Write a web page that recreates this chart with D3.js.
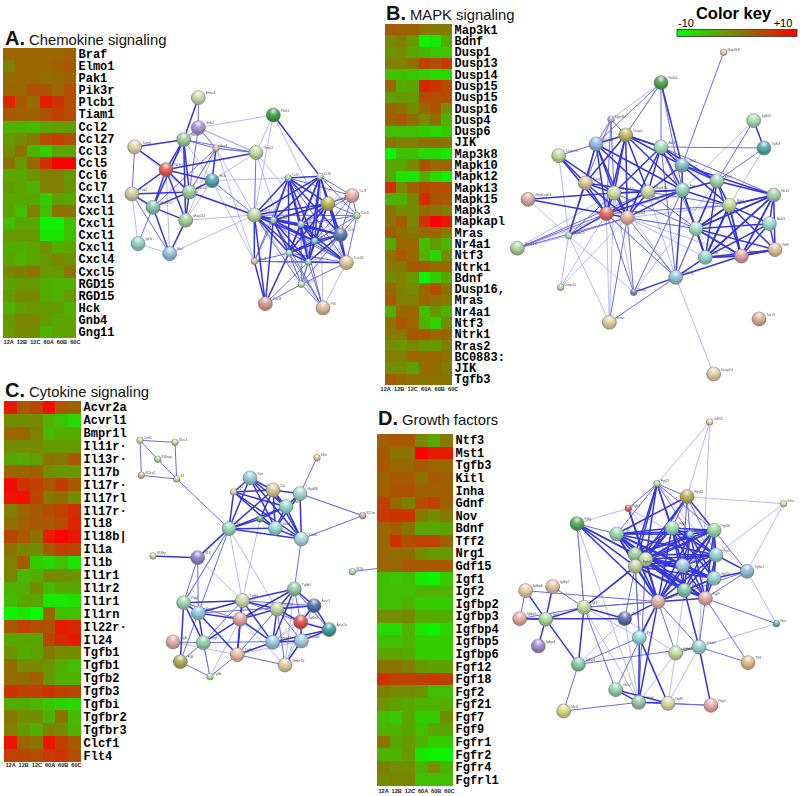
<!DOCTYPE html>
<html><head><meta charset="utf-8">
<script src="https://cdn.jsdelivr.net/npm/d3@7/dist/d3.min.js"></script>
<style>html,body{margin:0;background:#fff}svg{display:block}</style></head>
<body><div id="c"></div>
<script>
const timepoints=["12A","12B","12C","60A","60B","60C"];

const genesA=["Braf","Elmo1","Pak1","Pik3r","Plcb1","Tiam1","Ccl2","Ccl27","Ccl3","Ccl5","Ccl6","Ccl7","Cxcl1","Cxcl1","Cxcl1","Cxcl1","Cxcl1","Cxcl4","Cxcl5","RGD15","RGD15","Hck","Gnb4","Gng11"];
const valuesA=[[2,2,2,2,2,2.5],[0,2,2,2,2.5,3],[1.5,2,2,1,2,2.5],[2,2,4,3.5,2,4],[7,3,1.5,8,6,4],[3,2.5,2.5,3.5,5,4],[-4,-4,-4.5,-3,-2.5,-2.5],[-2,-1,.5,4,5,4],[-1,1,-4,-6,-3,-3],[1,-2,2,6,10,10],[-3,-3,-1.5,0,0,-2],[-2,-3,-4,0,0,-1.5],[-3,-3,-3,-6,-2.5,-3],[-3,-5,0,-5,1,1],[-5,-3,-3,-9,-9,-5],[-2,-2,-2,-8,-8,-5],[-3.5,-3.5,-3,-1,-3.5,-3],[-3,-4,-3,-2,-.5,-1.5],[-.5,0,1,-2,-2,1],[-3,-2,-2,-3.5,-4,-4],[-2,-.5,-.5,-3.5,-4,-2],[-4,-2.5,-2,-2,-2,-4],[-2,-.5,-.5,-2,-3,-3],[-2,-1,-1,-4,-3,-2.5]];

const genesB=["Map3k1","Bdnf","Dusp1","Dusp13","Dusp14","Dusp15","Dusp15","Dusp16","Dusp4","Dusp6","JIK","Map3k8","Mapk10","Mapk12","Mapk13","Mapk15","Mapk3","Mapkapl","Mras","Nr4a1","Ntf3","Ntrk1","Bdnf","Dusp16,","Mras","Nr4a1","Ntf3","Ntrk1","Rras2","BC0883:","JIK","Tgfb3"];
const valuesB=[[3,2.5,2.5,.5,.5,.5],[-1,0,-2,-9,-8,-3.5],[-1.5,-1,-3,-4,-5.5,-5.5],[0,0,1,5,4,5.5],[-5,-5,-5.5,-6.5,-7,-7],[2,-3.5,-3,7,6,4],[-2.5,-2,-2,4,4,4],[2,1,-1,2,3.5,-1],[2.5,3,1.5,-1,1.5,-4],[-5,-5,-5,-6,-7,-6],[1,0,0,1.5,1.5,1],[-9,-5,-5,-7,-7,-8],[-3,-3,-1,3.5,2,2],[-3,-8,-8,-3.5,-7,-9],[6,-.5,2.5,4.5,4,4],[-4,-4,-.5,6.5,3.5,3],[1,-1,-1,1.5,1,0],[1,3,-.5,6,10,8],[3,1,.5,2,2,.5],[-3.5,2,2,-5,-2,-4],[1,3,2,-4,-6.5,-1],[.5,.5,3,3,2,2],[-1,0,-2,-9,-6,-3],[2,0,-1,2,4,1],[3,0,0,2,1,.5],[-3.5,2,2,-5,-2,-4],[1,3,2,-4,-6.5,-1],[.5,.5,3,3,2,2],[-1,-1.5,-.5,-2,-2,0],[0,0,2,2,2,1],[-1,-1,-2.5,1.5,1.5,.5],[3,2,1,1,1,1]];

const genesC=["Acvr2a","Acvrl1","Bmpr1l","Il11r\u00b7","Il13r\u00b7","Il17b","Il17r\u00b7","Il17rl","Il17r\u00b7","Il18","Il18b|","Il1a","Il1b","Il1r1","Il1r2","Il1r1","Il1rn","Il22r\u00b7","Il24","Tgfb1","Tgfb1","Tgfb2","Tgfb3","Tgfbi","Tgfbr2","Tgfbr3","Clcf1","Flt4"];
const valuesC=[[8,3,4.5,9,3,2.5],[-1,-1,-1,-4,-5.5,-7],[2,2,0,-4.5,-3.5,-3.5],[-1,-1,-1,-2,-2,-2],[-3,-3.5,-2.5,1,.5,3],[2,2,2.5,-1,-2,-2],[9,6,5,3,5.5,3],[8.5,9,4.5,.5,1.5,-1],[0,2,3,4,5,6.5],[1,2.5,3,3,4,7],[4.5,3,1,8,10,8],[1,-.5,-1,3,5,4.5],[0,3,-6,-7,-5,-8],[-.5,-4.5,-3.5,-.5,-1,-1.5],[-4,-4,-1,-4.5,-3,-3],[-5,-3,-3,-8,-8,-7.5],[-9,-8,-10,2,-5,-5],[3,5,4,3.5,8,7],[-3,-3,-3,4.5,7,8],[-1.5,-3.5,-3,.5,-1,-1],[1.5,-1,-1,-1.5,-3.5,-5],[1.5,1.5,2.5,-2,-4,-4],[6,5,5,6,5,4.5],[-3.5,-3.5,-4,-5.5,-6.5,-7],[.5,-1,-1,-4,1,-4.5],[0,-2,-3.5,0,-1,-4],[8.5,2,1,8.5,5,3],[5,4.5,4,5.5,6,4]];

const genesD=["Ntf3","Mst1","Tgfb3","Kitl","Inha","Gdnf","Nov","Bdnf","Tff2","Nrg1","Gdf15","Igf1","Igf2","Igfbp2","Igfbp3","Igfbp4","Igfbp5","Igfbp6","Fgf12","Fgf18","Fgf2","Fgf21","Fgf7","Fgf9","Fgfr1","Fgfr2","Fgfr4","Fgfrl1"];
const valuesD=[[2.5,3,3,-.5,-3,.5],[3,1,1,10,8,8],[3,2,2,3,2,2],[2.5,3,3,1,3,2.5],[2.5,3.5,3.5,2.5,2.5,2.5],[5,2,0,4,5,2.5],[5.5,6,6,.5,-1,.5],[2,3,1,-3,-3,-2.5],[2,6,4,5,5,2.5],[2,1.5,1.5,-1,-2,-2],[2,2,3,3,3,3],[-5,-5.5,-5,-8,-9,-6],[-5,-5,-5,-4,-4,-4],[-5,-5,-4,-6,-6,-6],[-1,-1,-.5,-3.5,-3.5,-3.5],[-7,-7,-4,-8,-9,-6.5],[-5,-5,-4,-6,-6,-6],[-3,-3,-3.5,-6,-6,-6],[1,1,0,-2,-2.5,-2.5],[6,5,5,5,5.5,5],[0,-1,-1,-1.5,-5,-5],[-1.5,-2.5,-3,-4,-4,-3.5],[-5,-6,-3,-6,-6,-1],[-4,-4,-3,-5,-3,-3],[1,-3,-2,-4,-6,-6],[-4,-4,-2,-8,-9,-9],[0,-1,-1,-4,-1,-4],[-1,-.5,-.5,-5,-5,-5]];

/* Network A */
const namesA=["Elmo1","Gnb4","Rac1","Tiam1","Vav3","Gng11","Pik3r1","Hck","Plcb1","Cdc42","Pak1","Map2k2","Map2k1","Igf1r","Braf","Cxcl12","Ccl2","Ccl6","Ccl3","Cxcl10","Cxcl5","Cxcl14","Ccl5","Ccl4","Ccl7","Ccl27","Cxcl1","Cxcl2","Cxcl11","Ccl17","Cxcl4","Pf4"];
const xA=[235,235,191,44,288,408,138,276,460,208,36,99,197,54,149,403,505,600,696,624,711,460,543,661,584,507,403,565,679,544,436,609];
const yA=[83,173,209,231,235,248,299,332,135,366,372,412,451,521,551,435,324,319,377,401,437,451,463,494,513,549,574,576,578,643,701,714];
const bigA=[1,1,1,1,0,1,1,1,1,1,1,1,1,1,1,1,0,0,1,1,0,0,0,1,0,0,0,0,1,0,1,1];
const fillA=["#c3dba4","#a58ed1","#9ac797","#e3d4a6","#e6bda0","#b9dc9f","#e25a4c","#4ca3a5","#3a9c3c","#9ccc9c","#d6c496","#7fc6a3","#9ecf8f","#89cfc0","#8ebfe0","#bdd79a","#9fe0c0","#d9dca8","#e5a9a2","#b8b44a","#bfe09a","#9ed6a0","#a0dcdc","#5a75a8","#7fd4c0","#9fe0c8","#eabd94","#8fd8a8","#dcc796","#c5dea0","#d89a8a","#d9bd96"];
const strongA="Rac1 Elmo1 Pik3r1 Cdc42 Map2k2 Tiam1;Pik3r1 Tiam1 Cdc42 Map2k2 Pak1 Gng11 Hck Map2k1;Pak1 Map2k2 Cdc42;Map2k2 Map2k1 Braf Cdc42;Map2k1 Braf Cdc42 Rac1;Hck Cdc42 Vav3;Plcb1 Ccl6;Cdc42 Cxcl12;*Cxcl12 Cxcl14 Ccl5 Ccl7 Ccl27 Cxcl2 Cxcl10 Ccl4 Ccl2 Ccl6;Cxcl4 Cxcl1 Cxcl12 Cxcl14 Ccl27;Cxcl11 Ccl4 Ccl5 Ccl7 Cxcl10 Cxcl2;Cxcl1 Cxcl12";
const mediumA="Tiam1 Pak1;Igf1r Map2k2;Pak1 Braf;Vav3 Rac1 Gng11 Map2k2 Cdc42;Hck Cxcl12;Gng11 Cxcl12 Rac1;Gnb4 Rac1 Elmo1 Vav3 Cdc42;Cxcl11 Ccl2 Ccl6 Cxcl12 Cxcl14 Ccl27 Cxcl1 Ccl17;Ccl3 Ccl2 Ccl6 Cxcl10 Ccl4 Ccl5 Cxcl14 Ccl7 Cxcl5;Cxcl5 Ccl6 Cxcl10 Ccl4 Ccl5 Ccl7 Cxcl12 Cxcl11;Ccl17 Cxcl12 Ccl7 Ccl5 Cxcl2 Ccl27 Ccl4;Pf4 Ccl27 Cxcl2 Ccl17 Ccl5 Cxcl14;Cxcl1 Ccl2 Ccl27 Cxcl2 Cxcl11 Cxcl14;Cxcl4 Cxcl2 Ccl17";
const weakA="Plcb1 Gnb4 Gng11 Cxcl12 Cxcl11;Gng11 Gnb4 Hck Cxcl11 Ccl27 Vav3;Braf Igf1r Cxcl12;Map2k1 Cxcl12;Hck Ccl2 Cxcl1 Map2k1;Vav3 Cxcl12 Cxcl1 Map2k1;Rac1 Map2k1 Hck;Gnb4 Gng11 Pik3r1;Tiam1 Cdc42;Pak1 Igf1r;Pik3r1 Braf;Pf4 Cxcl12 Ccl6 Cxcl11";

/* Network B */
const namesB=["Map3k8","Nr4a1","Map3k1","Tgfbr2","Dusp1","Dusp4","Akt1","Tgfb3","Dusp16","Bcl2","Dusp6","Shc1","Fos","Mapk12","Mapk10","Mapkapk3","Ntrk2","Bdnf","Mapk13","Mapk3","Ntrk3","Egf","Mapk15","Dusp13","Ntf3","Ntrk1","Ngf","Pik3cg","Dusp15","Rras2","Mras","Tacr3","Dusp14"];
const xB=[641,453,303,731,347,258,453,762,146,516,226,621,517,312,414,54,791,658,289,352,778,558,176,22,795,694,586,497,152,371,298,747,611];
const yB=[157,248,358,362,405,432,441,444,467,496,549,543,570,579,576,598,585,616,641,653,671,686,707,745,749,768,772,832,862,877,967,957,1122];
const bigB=[0,1,0,1,1,1,1,1,1,1,1,1,1,1,1,1,1,1,1,1,1,1,0,1,1,1,1,1,0,0,1,1,1];
const fillB=["#eec8b0","#4c9f50","#b8a8dc","#a5dcaa","#c4b45a","#8ab8e0","#a0deb8","#4aa8a8","#bcd89a","#7fb9c0","#d8c490","#9fd4a8","#90d4b8","#cfdca0","#c5d596","#dca8a0","#a0cca8","#bfd890","#e26460","#e0b090","#9adcd0","#a0dcc8","#a8e0b8","#a8d098","#e2bd96","#e09aa0","#8fd4cc","#8fc4d8","#b8e0a4","#6f86b8","#dcd096","#e2ac90","#dccf9c"];
const strongB="*Dusp1 Dusp4 Mapk12 Mapk10 Mapk13 Mapk3 Dusp6;Fos Mapk12 Mapk10 Mapk13 Mapk3 Akt1 Bcl2 Dusp1 Dusp4;Akt1 Mapk10 Mapk12 Bcl2 Shc1 Dusp1 Mapk3;*Shc1 Ntrk2 Ntrk1 Ngf Egf Bdnf;*Ntrk2 Ntrk3 Ntf3 Ntrk1 Bdnf Egf Ngf;Nr4a1 Bcl2;Mapkapk3 Mapk13 Mapk12;Dusp16 Dusp6 Mapk13 Mapk12;Tgfbr2 Tgfb3;Pik3cg Ngf Ntrk1 Rras2 Fos;Mapk15 Dusp6 Mapk13;Bcl2 Shc1 Mapk10 Bdnf Ntrk2;Fos Shc1 Egf Bdnf Ngf;Dusp1 Akt1 Bcl2;Ntrk1 Ntf3 Ngf;Ngf Bdnf Egf";
const mediumB="Map3k8 Bcl2;Akt1 Tgfb3 Ntrk2;Nr4a1 Akt1 Fos;Map3k1 Dusp1 Mapk12 Mapk13 Dusp6;Tgfb3 Shc1;Tgfbr2 Shc1;Pik3cg Shc1 Egf Akt1 Mapk3 Mapk13;Rras2 Mapk3 Mapk13 Fos;Dusp13 Mapk13 Mapk3 Mapk10;Mapk15 Mapk3 Mapk12 Dusp4;Egf Mapk10 Mapk12 Mapk3 Akt1;Mapk3 Mras;Dusp4 Dusp16 Nr4a1;Map3k1 Dusp4;Dusp1 Nr4a1;Mras Pik3cg;Bdnf Mapk13 Mapk10";
const weakB="Nr4a1 Dusp1 Bcl2 Map3k1;Mapk15 Dusp13 Dusp15 Mras Rras2 Mapkapk3;Dusp16 Mapk15;Tgfb3 Bdnf;Tgfbr2 Fos;Pik3cg Dusp14 Mapk12 Mapk10;Mras Mapk13 Mapk12;Dusp15 Mapk13 Mapk3;Dusp13 Mapk12 Fos;Mapk3 Egf Ngf Bdnf Ntrk1;Mapk13 Pik3cg Shc1;Bcl2 Ntrk2;Rras2 Mapk12 Shc1";

/* Network C */
const namesC=["Cntf1","Il1ra1","Il18rap","Il22ra2","Il4","Il1rk","Kim","Il1r","Il17","Myd88","Irak1","Il27ra","Traf","Il6","Irak4","Traf6","Il18bp","Il18","Il27b","Tgfbr1","Pdgf","Tgfb1","Vegfa","Acvr1","Ngfr1","Tgfb2","Tgfbr3","Acvr2a","Egfb","Sfgf","Smad3","Smad4","Flt4","Tgfb3","Bmpr1b","Tgfbi","offL"];
const xC=[30,135,83,34,140,561,360,429,311,510,468,698,390,297,436,514,69,203,667,493,161,337,205,552,441,330,512,597,129,220,428,514,151,322,465,240,745];
const yC=[61,67,118,166,177,113,174,210,216,221,260,287,297,326,325,357,408,413,455,507,548,542,579,557,567,598,606,629,666,668,667,663,725,704,735,770,445];
const bigC=[0,0,0,0,0,0,1,1,0,1,1,0,0,1,1,1,0,1,0,1,1,1,1,1,1,1,1,1,1,1,1,1,1,1,1,0,-1];
const fillC=["#cfdca0","#dcd098","#a8d898","#e8b0a0","#c8dca0","#e0cf9c","#8fcdd8","#dcc490","#e2c7a0","#9fd8c8","#90d8c8","#e8a8a0","#5db85c","#8fd8b8","#90d8d8","#a0dcd4","#c5e0a4","#9080c8","#a8dcb0","#90c8a4","#95d4b0","#c8dca0","#90ccd8","#4a6aaa","#bfd49a","#e0a0a0","#e24a4a","#3a9a9a","#e0a8a0","#90d0a8","#90c8d8","#a0c8e0","#b0a850","#e8b898","#dccc9c","#b0e0a4","#fff"];
const strongC="*Il6 Irak1 Irak4 Traf6 Il1r Il17 Kim;Myd88 Irak1 Irak4 Traf6 Il1r;Traf Il1r Irak1 Irak4 Il6;Il18 Il6 Il18bp;Tgfbr1 Tgfb1 Ngfr1 Acvr1 Smad3 Tgfb2;Tgfb1 Ngfr1 Tgfb2 Pdgf Vegfa Smad3 Tgfb3;Smad3 Ngfr1 Tgfb3 Smad4 Tgfb2 Acvr2a;Vegfa Pdgf Tgfb3 Sfgf Tgfb2;Pdgf Flt4 Sfgf;Acvr1 Acvr2a Tgfbr3 Ngfr1;Tgfbr3 Acvr2a Smad4 Ngfr1;Tgfb2 Tgfb3 Ngfr1 Sfgf;Smad4 Acvr2a Bmpr1b";
const mediumC="Cntf1 Il1ra1 Il22ra2 Il18rap;Il4 Il1ra1 Il22ra2 Il18rap Il6;Il18 Pdgf Vegfa;Il6 Vegfa Pdgf;Myd88 Il1rk Il27ra;Traf6 Il27ra Tgfbr1;Il27b offL;Sfgf Flt4 Smad4 Tgfbi;Pdgf Vegfa Tgfb2;Vegfa Flt4 Acvr1;Ngfr1 Tgfb3 Bmpr1b Smad4;Tgfb1 Acvr1 Tgfbr3 Sfgf;Tgfb3 Bmpr1b Smad3 Tgfbi;Flt4 Tgfbi;Egfb Sfgf;Tgfbr1 Tgfbr3 Acvr2a";
const weakC="Il6 Tgfb1 Ngfr1;Il18 Tgfb1;Traf Tgfb1;Pdgf Il6;Tgfbi Tgfb2 Sfgf;Bmpr1b Tgfb2 Tgfbr3 Acvr1 Smad4;Egfb Tgfb3;Myd88 Il27ra;Tgfb3 Smad4;Smad3 Acvr1 Tgfbr3;Tgfbr1 Bmpr1b";

/* Network D */
const namesD=["Gdf15","Fgf21","Fgf12","Inha","Fgfr1","Kitlg","Fgf2","Fgf4","Fgf18","Fgf1","Fgf5","Fgfr2","Fgfr3","Fgfr4","Fgf8","Tgfbr2","Fgf10","Fgf9","Fgf7","Fgf6","Igfbp6","Igfbp7","Igf1","Igfbp5","Igf2","Tgfb3","Nov","Prrs","Gdnf2","Erbb3","Igfbp4","Igfbp3","Tff3","Nos2","Gdnf","Ngf3","Nrg1","Mst1"];
const xD=[629,471,561,851,385,231,350,516,642,570,648,405,437,406,548,741,642,616,553,474,77,158,252,59,137,374,829,418,527,597,115,235,744,347,416,504,633,191];
const yD=[66,251,290,311,325,371,402,384,391,403,465,463,478,499,497,514,535,595,571,605,572,560,622,656,658,656,671,713,759,741,738,793,788,869,907,910,916,933];
const bigD=[0,0,1,0,0,1,1,1,1,0,1,1,1,1,1,1,1,1,1,1,1,1,1,1,1,1,0,1,1,1,1,1,1,1,1,1,1,1];
const fillD=["#e0d4a0","#c5e0a4","#c0a850","#d0e0a0","#e85a50","#4ca850","#90d8b0","#90dcb0","#90d8a0","#a0d8d0","#90d4d4","#a0cca0","#c0e0a0","#bcd49a","#9cc8e0","#90bcd8","#90d4cc","#e0a8a0","#80c8a0","#e0b09c","#e8c8a0","#e4c09c","#b8dc98","#e8a8a0","#a8d898","#5a68a8","#50b8b0","#90d8d8","#c0dca0","#90d4d0","#a088d0","#80c8a0","#e0bc80","#90d0b0","#90c8a0","#e0d8a0","#e8a8a8","#d8d880"];
const strongD="*Fgf2 Fgf4 Fgf18 Fgf1 Fgf5 Fgfr2 Fgfr3 Fgfr4 Fgf8 Fgf10 Fgf9 Fgf7 Fgf6;Fgf21 Fgfr2 Fgfr3 Fgfr4 Fgf4;Fgf12 Fgfr3 Fgfr4 Fgf18 Fgf2;Fgfr1 Fgfr3 Fgf6;Kitlg Fgfr2 Fgfr3 Fgfr4 Fgf6;Igf1 Igf2 Igfbp3 Fgfr4 Tgfb3;Igf2 Igfbp5 Igfbp6 Igfbp7 Igfbp4 Igfbp3;Fgf6 Prrs Gdnf Tgfb3;Prrs Gdnf Ngf3;Gdnf Nos2 Ngf3;Nos2 Ngf3;Erbb3 Nrg1 Fgf7;Tgfbr2 Fgf10 Fgf5;Fgf9 Fgf7;Igfbp5 Tgfb3";
const mediumD="Fgf21 Fgf2 Fgf8 Fgf18 Fgfr1 Fgf1;Fgf12 Fgf21 Fgf1 Fgf4 Fgf5 Fgf8;Kitlg Igf1 Fgf2;Tgfbr2 Fgf9 Fgf18 Fgf6;Igf1 Fgfr3 Fgf6 Nos2 Igfbp7 Igfbp5;Erbb3 Fgf6 Fgf9 Gdnf2 Tff3;Fgf9 Tff3 Nov;Fgf6 Gdnf2 Nos2 Igf1;Prrs Fgfr4 Igfbp3;Igfbp3 Mst1 Erbb3;Igfbp6 Igfbp5 Fgf6;Gdnf Mst1 Nrg1;Fgfr3 Gdnf;Ngf3 Nrg1;Fgfr4 Prrs Fgf6 Tgfb3";
const weakD="Gdf15 Fgf21 Fgf12;Inha Fgf12 Tgfbr2 Fgf5;Fgfr1 Kitlg Fgf5 Fgf9;Tgfbr2 Nov;Kitlg Gdnf Igf1;Erbb3 Nov Ngf3 Gdf15;Gdnf2 Ngf3 Gdnf Tgfb3;Fgf21 Fgf5 Fgf8;Fgf7 Erbb3 Gdnf2;Tgfb3 Igfbp3 Gdnf;Igf1 Gdnf Prrs";

const W=800,H=796;
const svg=d3.select("#c").append("svg").attr("width",W).attr("height",H).style("font-family","'Liberation Sans',Arial,sans-serif");
const defs=svg.append("defs");
const color=d3.scaleLinear().domain([-10,10]).range(["#00ff00","#ff0000"]);

/* sphere shine */
const sh=defs.append("radialGradient").attr("id","shine").attr("cx","50%").attr("cy","22%").attr("r","60%");
sh.append("stop").attr("offset","0").attr("stop-color","#fff").attr("stop-opacity",.85);
sh.append("stop").attr("offset",".5").attr("stop-color","#fff").attr("stop-opacity",.1);
sh.append("stop").attr("offset","1").attr("stop-color","#000").attr("stop-opacity",.18);

function parseEdges(s){
  const out=[];
  s.split(";").forEach(g=>{
    const clique=g[0]==="*";
    const t=g.replace("*","").trim().split(/\s+/);
    if(clique){for(let i=0;i<t.length;i++)for(let j=i+1;j<t.length;j++)out.push([t[i],t[j]]);}
    else t.slice(1).forEach(b=>out.push([t[0],b]));
  });
  return out;
}
function network(names,xs,ys,big,fills,strong,medium,weak,ox,oy,w,h){
  const sx=d3.scaleLinear().domain([0,w*3]).range([ox,ox+w]);
  const sy=d3.scaleLinear().domain([0,h*3]).range([oy,oy+h]);
  const idx=new Map(names.map((n,i)=>[n,i]));
  const g=svg.append("g").style("filter","blur(0.35px)");
  [[weak,"#9a9af0",.7],[medium,"#6a6ae6",1],[strong,"#3434e0",1.5]].forEach(([s,c,wd])=>{
    g.append("g").selectAll("line").data(parseEdges(s).filter(e=>idx.has(e[0])&&idx.has(e[1]))).join("line")
      .attr("x1",e=>sx(xs[idx.get(e[0])])).attr("y1",e=>sy(ys[idx.get(e[0])]))
      .attr("x2",e=>sx(xs[idx.get(e[1])])).attr("y2",e=>sy(ys[idx.get(e[1])]))
      .attr("stroke",c).attr("stroke-width",wd);
  });
  const radius=i=>big[i]>0?7:big[i]===0?3.3:0;
  const nodes=names.map((n,i)=>i).filter(i=>big[i]>=0);
  const ng=g.append("g").selectAll("g").data(nodes).join("g")
    .attr("transform",i=>`translate(${sx(xs[i])},${sy(ys[i])})`);
  ng.append("circle").attr("r",radius).attr("fill",i=>fills[i]).attr("stroke","#777").attr("stroke-width",.6);
  ng.append("circle").attr("r",radius).attr("fill","url(#shine)");
  ng.append("text").attr("x",i=>radius(i)+.5).attr("y",i=>-radius(i)*.5)
    .attr("font-size",3.4).attr("fill","#555").text(i=>names[i]);
}
network(namesA,xA,yA,bigA,fillA,strongA,mediumA,weakA,120,70,260,280);
network(namesB,xB,yB,bigB,fillB,strongB,mediumB,weakB,510,0,290,390);
network(namesC,xC,yC,bigC,fillC,strongC,mediumC,weakC,130,420,250,330);
network(namesD,xD,yD,bigD,fillD,strongD,mediumD,weakD,500,400,300,330);

function heat(genes,vals,x0,x1,y0,y1,tickY,t0,t1){
  const bx=d3.scaleBand().domain(timepoints).range([x0,x1]);
  const by=d3.scaleBand().domain(d3.range(genes.length)).range([y0,y1]);
  const tx=d3.scaleBand().domain(timepoints).range([t0,t1]);
  const g=svg.append("g");
  const cells=g.append("g").style("filter","blur(0.4px)");
  vals.forEach((row,r)=>{
    const top=Math.round(by(r)),bot=Math.round(by(r)+by.bandwidth());
    cells.append("g").selectAll("rect").data(row).join("rect")
      .attr("x",(d,i)=>Math.round(bx(timepoints[i]))).attr("y",top)
      .attr("width",(d,i)=>Math.round(bx(timepoints[i])+bx.bandwidth())-Math.round(bx(timepoints[i])))
      .attr("height",bot-top).attr("shape-rendering","crispEdges")
      .attr("fill",d=>color(d));
  });
  g.append("g").selectAll("text").data(genes).join("text")
    .attr("x",x1+2.5).attr("y",(d,i)=>by(i)+by.bandwidth()/2+4)
    .attr("font-family","'Liberation Mono',monospace").attr("font-weight","bold")
    .attr("font-size",12).attr("fill","#000").text(d=>d);
  g.append("g").selectAll("text").data(timepoints).join("text")
    .attr("x",d=>tx(d)+tx.bandwidth()/2).attr("y",tickY).attr("text-anchor","middle")
    .attr("font-size",5.6).attr("font-weight","bold").attr("fill","#222").text(d=>d);
}
heat(genesA,valuesA,3,76,48,338,343.5,2,82);
heat(genesB,valuesB,385,452,24,385,391,379,460);
heat(genesC,valuesC,4,81,401,762,767,4,83);
heat(genesD,valuesD,377,453,434,786,793,377,456);

const titles=[["A.","Chemokine signaling",5,45],["B.","MAPK signaling",386,20],["C.","Cytokine signaling",5,397],["D.","Growth factors",378,425]];
titles.forEach(([l,t,x,y])=>{
  const tx=svg.append("text").attr("x",x).attr("y",y).attr("fill","#111");
  tx.append("tspan").attr("font-weight","bold").attr("font-size",20).text(l);
  tx.append("tspan").attr("dx",4).attr("font-size",14.8).text(t);
});

/* Colour key */
const keyTicks=[-10,10];
const keyX=d3.scaleLinear().domain([-10,10]).range([677,797]);
const kg=defs.append("linearGradient").attr("id","key");
keyTicks.forEach(v=>kg.append("stop").attr("offset",(v+10)/20).attr("stop-color",color(v)));
svg.append("rect").attr("x",keyX(-10)).attr("y",29.5).attr("width",keyX(10)-keyX(-10)).attr("height",7)
  .attr("fill","url(#key)").attr("stroke","#333").attr("stroke-width",.8);
svg.append("text").attr("x",733.5).attr("y",18.5).attr("text-anchor","middle").attr("font-weight","bold").attr("font-size",16.5).attr("fill","#000").text("Color key");
svg.append("text").attr("x",686).attr("y",27).attr("text-anchor","middle").attr("font-size",11).text("-10");
svg.append("text").attr("x",783).attr("y",27).attr("text-anchor","middle").attr("font-size",11).text("+10");
</script></body></html>
